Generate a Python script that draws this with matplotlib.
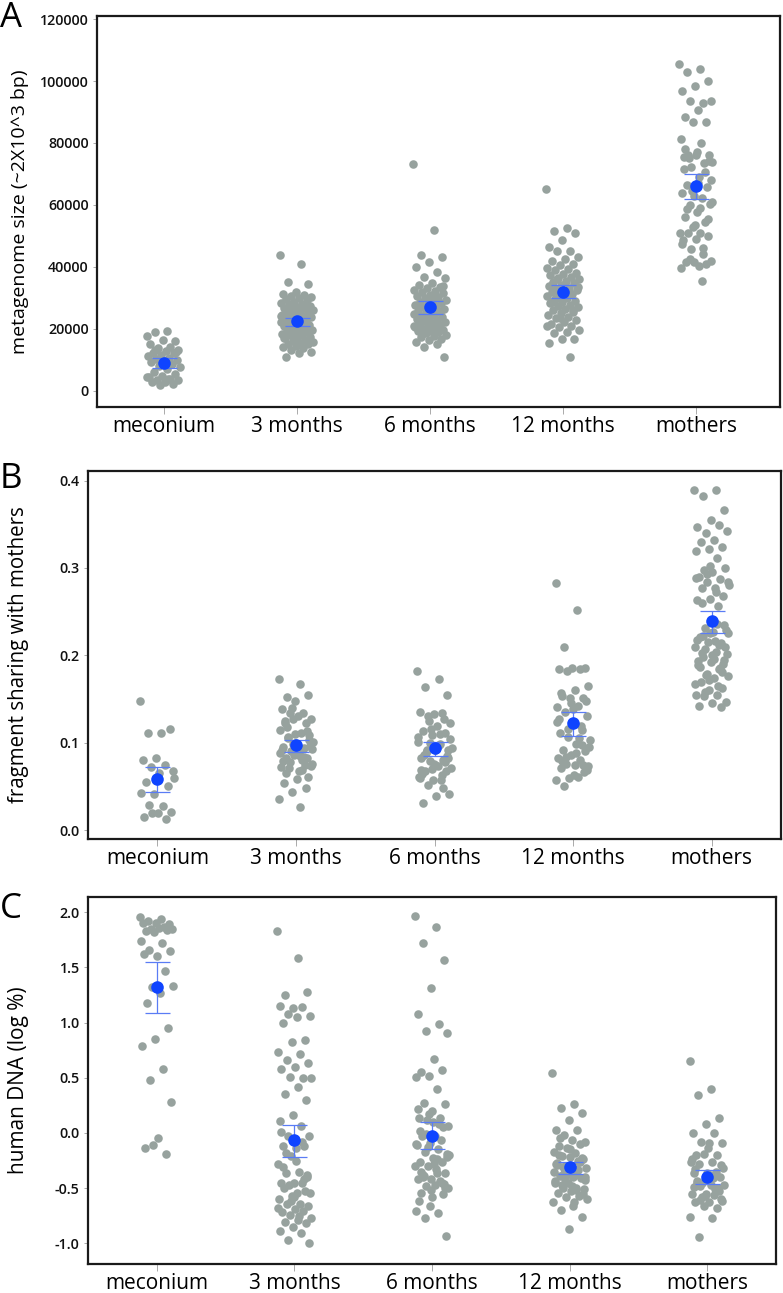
import matplotlib
matplotlib.use('Agg')
import matplotlib.pyplot as plt
import numpy as np

groups = ['meconium', '3 months', '6 months', '12 months', 'mothers']

# panel A: metagenome size
a_meconium = [17700, 19200, 18800, 16000, 16400, 15000, 14200, 13600, 13100, 12900, 12300, 12000,
              11400, 11100, 10500, 10200, 9900, 9400, 9100, 8500, 7800, 7500, 6900, 6100, 5200,
              4600, 4300, 3900, 3500, 3300, 2900, 2700, 2200, 1800, 4400, 3700, 13000, 12500]
a_3m = [43800, 40800, 35000, 34400, 31900, 31300, 30900, 30700, 30100, 29800, 29500, 29300, 28700,
        28400, 28100, 27900, 27400, 27100, 26800, 26700, 26200, 25900, 25800, 25300, 25000, 24900,
        24400, 24100, 23900, 23800, 23300, 23000, 22700, 22600, 22100, 21800, 21700, 21200, 20900,
        20800, 20300, 20100, 19700, 19600, 19100, 18800, 18700, 18200, 17900, 17800, 17300, 17000,
        16900, 16400, 16100, 15800, 15500, 15200, 14900, 14500, 14100, 13900, 13200, 12600, 12100,
        10800, 28000, 26100, 24200, 22300, 20200, 19300, 18400, 17100]
a_6m = [73100, 51900, 43800, 43000, 41500, 40000, 38300, 36800, 36500, 34700, 34100, 33600, 33200,
        32600, 32300, 31700, 31400, 30900, 30500, 30200, 29800, 29400, 29100, 28600, 28300, 27900,
        27700, 27200, 26900, 26500, 26300, 25800, 25600, 25100, 24800, 24500, 24100, 23800, 23500,
        23100, 22800, 22400, 22200, 21900, 21500, 21200, 20900, 20700, 20300, 20000, 19700, 19400,
        19100, 18800, 18500, 18100, 17600, 17200, 16700, 16300, 15700, 15200, 14200, 11000, 30100,
        27400, 25300, 22600, 21000, 19900, 18300, 33900, 29600, 24300, 20500]
a_12m = [65200, 52400, 51400, 50800, 48500, 46500, 45200, 45000, 43100, 42400, 41800, 41000, 40500,
         39700, 39200, 38800, 38100, 37600, 37300, 36800, 36300, 35900, 35400, 35100, 34600, 34200,
         33800, 33300, 32900, 32500, 32100, 31700, 31300, 30800, 30400, 30000, 29600, 29100, 28700,
         28300, 27800, 27300, 26900, 26400, 25900, 25500, 25000, 24400, 23900, 23300, 22800, 22100,
         21600, 21000, 20400, 19700, 19000, 18500, 16700, 16700, 15300, 11000, 36100, 33500, 31000,
         28500, 26100, 23600, 20800]
a_mothers = [105400, 103800, 103000, 100000, 98400, 96800, 92800, 93400, 93400, 90700, 88500, 86700,
             86700, 81200, 79900, 76100, 76100, 76100, 75600, 73400, 72300, 73800, 69000, 66300,
             65900, 62700, 63800, 62100, 60000, 60300, 57800, 56200, 54600, 52700, 50800, 51000,
             51000, 49900, 49000, 48700, 46200, 45700, 41900, 40100, 41400, 40800, 41400, 39500,
             35400, 75000, 74200, 77000, 71500, 70500, 64500, 61000, 59000, 58500, 55500, 53500,
             47500, 44000, 42500, 68000, 67000, 78000]
a_mean = [9050, 22400, 27000, 32000, 66100]
a_lo = [7200, 20800, 24900, 29800, 61800]
a_hi = [10400, 23600, 28800, 34100, 70000]

# panel B: fragment sharing with mothers
b_meconium = [0.148, 0.111, 0.111, 0.116, 0.083, 0.080, 0.074, 0.072, 0.067, 0.065, 0.055, 0.050,
              0.041, 0.042, 0.028, 0.029, 0.021, 0.020, 0.015, 0.013, 0.019, 0.060]
b_3m = [0.173, 0.167, 0.152, 0.155, 0.148, 0.138, 0.134, 0.134, 0.127, 0.130, 0.122, 0.122, 0.127,
        0.115, 0.111, 0.107, 0.103, 0.097, 0.095, 0.094, 0.090, 0.093, 0.087, 0.082, 0.082, 0.086,
        0.072, 0.069, 0.071, 0.073, 0.058, 0.054, 0.048, 0.043, 0.036, 0.026, 0.118, 0.109, 0.100,
        0.092, 0.084, 0.078, 0.076, 0.068, 0.125, 0.113, 0.099, 0.088, 0.080, 0.105, 0.096, 0.091,
        0.079, 0.074, 0.140, 0.101, 0.085, 0.065, 0.061, 0.110]
b_6m = [0.182, 0.173, 0.164, 0.154, 0.133, 0.135, 0.134, 0.130, 0.123, 0.119, 0.113, 0.111, 0.109,
        0.101, 0.099, 0.092, 0.092, 0.092, 0.082, 0.080, 0.079, 0.071, 0.073, 0.067, 0.067, 0.057,
        0.059, 0.057, 0.052, 0.041, 0.039, 0.031, 0.127, 0.116, 0.106, 0.097, 0.088, 0.085, 0.076,
        0.069, 0.063, 0.125, 0.104, 0.095, 0.086, 0.078, 0.070, 0.061, 0.110, 0.090, 0.083, 0.074,
        0.064, 0.048, 0.100, 0.094]
b_12m = [0.283, 0.252, 0.209, 0.185, 0.186, 0.184, 0.184, 0.182, 0.165, 0.160, 0.153, 0.151, 0.151,
         0.141, 0.142, 0.135, 0.130, 0.122, 0.111, 0.115, 0.116, 0.103, 0.099, 0.092, 0.090, 0.086,
         0.082, 0.080, 0.076, 0.073, 0.074, 0.071, 0.074, 0.059, 0.057, 0.061, 0.050, 0.148, 0.138,
         0.127, 0.119, 0.107, 0.095, 0.088, 0.079, 0.066, 0.145, 0.124, 0.105, 0.084, 0.069, 0.063,
         0.157, 0.097]
b_mothers = [0.389, 0.389, 0.382, 0.366, 0.355, 0.347, 0.349, 0.340, 0.342, 0.332, 0.330, 0.324,
             0.322, 0.319, 0.311, 0.298, 0.300, 0.295, 0.290, 0.287, 0.284, 0.284, 0.277, 0.277,
             0.268, 0.265, 0.263, 0.256, 0.231, 0.229, 0.227, 0.221, 0.214, 0.215, 0.210, 0.204,
             0.198, 0.195, 0.192, 0.189, 0.184, 0.177, 0.176, 0.174, 0.170, 0.162, 0.160, 0.155,
             0.155, 0.153, 0.147, 0.145, 0.142, 0.141, 0.293, 0.280, 0.272, 0.260, 0.235, 0.225,
             0.218, 0.212, 0.207, 0.201, 0.196, 0.187, 0.181, 0.172, 0.167, 0.236, 0.222, 0.209,
             0.200, 0.193, 0.186, 0.179, 0.226, 0.216, 0.203, 0.190, 0.302, 0.288, 0.165, 0.158]
b_mean = [0.058, 0.097, 0.094, 0.122, 0.239]
b_lo = [0.043, 0.089, 0.085, 0.108, 0.225]
b_hi = [0.072, 0.103, 0.101, 0.135, 0.251]

# panel C: human DNA (log %)
c_meconium = [1.96, 1.94, 1.92, 1.89, 1.90, 1.90, 1.87, 1.85, 1.85, 1.86, 1.83, 1.84, 1.82, 1.74,
              1.72, 1.66, 1.65, 1.60, 1.62, 1.47, 1.32, 1.33, 1.27, 1.18, 0.95, 0.85, 0.79, 0.58,
              0.48, 0.28, -0.05, -0.14, -0.19, -0.11]
c_3m = [1.83, 1.59, 1.25, 1.28, 1.13, 1.15, 1.14, 1.08, 1.06, 1.05, 1.00, 0.84, 0.82, 0.73, 0.72,
        0.66, 0.63, 0.60, 0.58, 0.50, 0.51, 0.50, 0.42, 0.35, 0.30, 0.16, 0.11, 0.06, -0.03, -0.03,
        -0.14, -0.12, -0.12, -0.21, -0.28, -0.35, -0.36, -0.38, -0.45, -0.45, -0.45, -0.47, -0.54,
        -0.54, -0.50, -0.53, -0.57, -0.60, -0.64, -0.64, -0.66, -0.69, -0.72, -0.71, -0.74, -0.77,
        -0.79, -0.81, -0.82, -0.85, -0.89, -0.91, -0.97, -1.00, -0.25, -0.31, -0.42, -0.62, -0.68,
        -0.75, -0.18, -0.40, -0.58, 0.01, -0.08]
c_6m = [1.97, 1.87, 1.72, 1.57, 1.31, 1.08, 0.99, 0.92, 0.91, 0.67, 0.55, 0.57, 0.52, 0.51, 0.40,
        0.27, 0.26, 0.20, 0.14, 0.14, 0.12, 0.06, -0.03, -0.03, 0.05, -0.09, -0.11, -0.15, -0.17,
        -0.22, -0.23, -0.26, -0.26, -0.30, -0.30, -0.36, -0.38, -0.36, -0.42, -0.42, -0.44, -0.48,
        -0.50, -0.47, -0.54, -0.55, -0.66, -0.71, -0.73, -0.77, -0.93, 0.10, 0.02, -0.06, -0.13,
        -0.20, -0.33, -0.40, -0.46, -0.52, 0.22, 0.08, -0.01, -0.19, -0.28, -0.35, -0.45, 0.17,
        -0.10, -0.24, -0.39, -0.50, -0.58, -0.62]
c_12m = [0.54, 0.26, 0.23, 0.18, 0.115, 0.03, 0.03, -0.02, -0.08, -0.06, -0.12, -0.10, -0.14,
         -0.17, -0.18, -0.21, -0.24, -0.22, -0.27, -0.25, -0.30, -0.32, -0.40, -0.39, -0.41,
         -0.45, -0.45, -0.50, -0.50, -0.51, -0.53, -0.54, -0.57, -0.58, -0.63, -0.63, -0.70,
         -0.76, -0.87, -0.28, -0.33, -0.36, -0.43, -0.48, -0.20, -0.26, -0.31, -0.35, -0.38,
         -0.47, -0.55, -0.15, -0.29, -0.34, -0.42, -0.60, -0.66, -0.05, -0.23, -0.37, -0.44,
         -0.52, -0.31, -0.40]
c_mothers = [0.65, 0.40, 0.34, 0.14, 0.08, 0.00, 0.00, -0.08, -0.09, -0.09, -0.20, -0.20, -0.19,
             -0.26, -0.26, -0.28, -0.29, -0.36, -0.36, -0.35, -0.45, -0.47, -0.47, -0.45, -0.53,
             -0.55, -0.55, -0.56, -0.61, -0.62, -0.63, -0.63, -0.68, -0.66, -0.76, -0.77, -0.94,
             -0.40, -0.42, -0.49, -0.51, -0.58, -0.32, -0.38, -0.44, -0.50, -0.57, -0.24, -0.41,
             -0.48, -0.60, -0.14, -0.33, -0.52]
c_mean = [1.32, -0.066, -0.024, -0.31, -0.40]
c_lo = [1.085, -0.215, -0.15, -0.37, -0.46]
c_hi = [1.55, 0.07, 0.097, -0.26, -0.34]

panels = [
    ('A', 'metagenome size (~2X10^3 bp)', 14, [a_meconium, a_3m, a_6m, a_12m, a_mothers],
     a_mean, a_lo, a_hi, (-5300, 121000), np.arange(0, 120001, 20000), '%d',
     [97 / 783, 1 - 407 / 1293, 683 / 783, 391 / 1293], (-0.5, 4.63), 27),
    ('B', 'fragment sharing with mothers', 14.8, [b_meconium, b_3m, b_6m, b_12m, b_mothers],
     b_mean, b_lo, b_hi, (-0.0103, 0.411), np.arange(0, 0.41, 0.1), '%.1f',
     [88 / 783, 1 - 839 / 1293, 693 / 783, 368 / 1293], (-0.5, 4.5), 488),
    ('C', 'human DNA (log %)', 15, [c_meconium, c_3m, c_6m, c_12m, c_mothers],
     c_mean, c_lo, c_hi, (-1.188, 2.139), np.arange(-1.0, 2.01, 0.5), '%.1f',
     [88 / 783, 1 - 1264 / 1293, 688 / 783, 367 / 1293], (-0.5, 4.5), 918),
]

gray = '#97a29e'
blue = '#0f44ff'
ebar = '#5a7cf5'
lab_font = 'Open Sans'

fig = plt.figure(figsize=(7.83, 12.93), dpi=100)

for letter, ylabel, ysize, data, means, lo, hi, ylim, yt, fmt, pos, xlim, base in panels:
    ax = fig.add_axes(pos)
    for i, vals in enumerate(data):
        vals = np.array(vals, dtype=float)
        # spread points sideways (golden ratio steps, no randomness)
        off = ((np.arange(len(vals)) * 0.6180339887) % 1.0 - 0.5) * 0.25
        ax.scatter(i + off, vals, s=38, color=gray, linewidths=0, zorder=2)
    x = np.arange(len(groups))
    means = np.array(means)
    err = [means - np.array(lo), np.array(hi) - means]
    ax.errorbar(x, means, yerr=err, fmt='none', ecolor=ebar, elinewidth=0.9,
                capsize=9, capthick=0.9, zorder=3)
    ax.scatter(x, means, s=82, color=blue, linewidths=0, zorder=4)

    ax.set_xlim(*xlim)
    ax.set_ylim(*ylim)
    ax.set_xticks(x)
    ax.set_xticklabels(groups, fontsize=15, family=lab_font)
    ax.set_yticks(yt)
    ax.set_yticklabels([fmt % v for v in yt], fontsize=10.3, family=lab_font,
                       weight='semibold', color='#111111')
    ax.tick_params(axis='x', length=5, width=0.7, color='#aaaaaa', pad=1.5)
    ax.tick_params(axis='y', length=3, width=0.7, color='#aaaaaa', pad=3)
    for sp in ax.spines.values():
        sp.set_linewidth(1.6)
        sp.set_color('#1a1a1a')
    ax.set_ylabel(ylabel, fontsize=ysize, family=lab_font)
    ax.yaxis.set_label_coords((29 - pos[0] * 783) / (pos[2] * 783), 0.5)
    fig.text(0.0, 1 - base / 1293, letter, fontsize=25, family=lab_font,
             va='baseline', ha='left')

fig.savefig('out.png', dpi=100)
